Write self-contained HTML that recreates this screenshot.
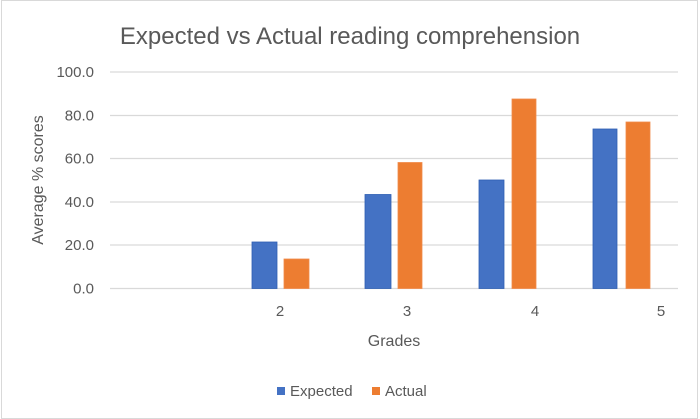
<!DOCTYPE html>
<html><head><meta charset="utf-8"><style>
html,body{margin:0;padding:0;background:#fff;}
svg{display:block;font-family:"Liberation Sans",sans-serif;}
</style></head><body>
<svg width="700" height="419" xmlns="http://www.w3.org/2000/svg">
<rect x="1.5" y="0.5" width="696" height="418" fill="#fff" stroke="#d9d9d9"/>
<text x="350" y="44" font-size="24" fill="#595959" text-anchor="middle">Expected vs Actual reading comprehension</text>
<g stroke="#d9d9d9" stroke-width="1.3">
<line x1="110" x2="678" y1="72" y2="72"/>
<line x1="110" x2="678" y1="115.5" y2="115.5"/>
<line x1="110" x2="678" y1="158.5" y2="158.5"/>
<line x1="110" x2="678" y1="202" y2="202"/>
<line x1="110" x2="678" y1="245" y2="245"/>
<line x1="110" x2="678" y1="288.5" y2="288.5"/>
</g>
<g font-size="15" fill="#595959" text-anchor="end">
<text x="94" y="77">100.0</text>
<text x="94" y="120.5">80.0</text>
<text x="94" y="163.5">60.0</text>
<text x="94" y="207">40.0</text>
<text x="94" y="250">20.0</text>
<text x="94" y="293.5">0.0</text>
</g>
<text transform="translate(43,180) rotate(-90)" font-size="16" fill="#595959" text-anchor="middle">Average % scores</text>
<g fill="#4472c4" stroke="#2f5fb3" stroke-width="0.8">
<rect x="252" y="242" width="25" height="46.5"/>
<rect x="365" y="194.5" width="26" height="94"/>
<rect x="479" y="180" width="25" height="108.5"/>
<rect x="593" y="129" width="24" height="159.5"/>
</g>
<g fill="#ed7d31" stroke="#f08a4a" stroke-width="0.8">
<rect x="284" y="259" width="25" height="29.5"/>
<rect x="398" y="162.5" width="24" height="126"/>
<rect x="512" y="99" width="24" height="189.5"/>
<rect x="626" y="122" width="24" height="166.5"/>
</g>
<g font-size="15" fill="#595959" text-anchor="middle">
<text x="280" y="316">2</text>
<text x="407" y="316">3</text>
<text x="535" y="316">4</text>
<text x="661" y="316">5</text>
</g>
<text x="394" y="346" font-size="16" fill="#595959" text-anchor="middle">Grades</text>
<rect x="277" y="387" width="8" height="8" fill="#4472c4"/>
<text x="290" y="396" font-size="15" fill="#595959">Expected</text>
<rect x="372" y="387" width="8" height="8" fill="#ed7d31"/>
<text x="385" y="396" font-size="15" fill="#595959">Actual</text>
</svg>
</body></html>
